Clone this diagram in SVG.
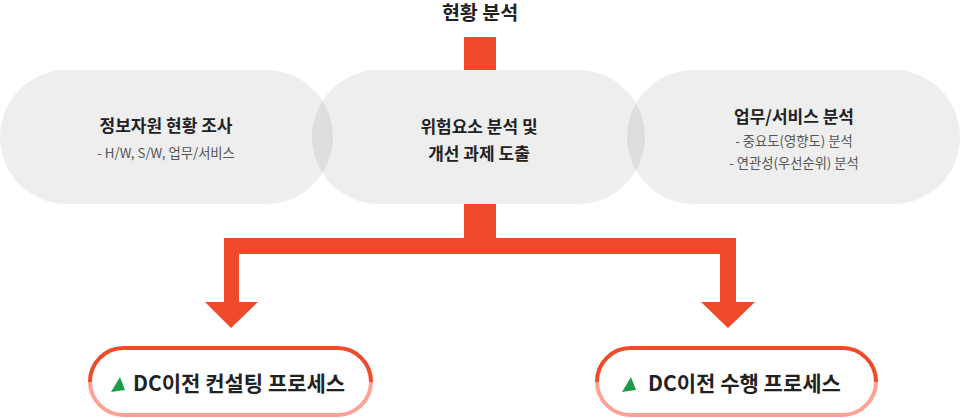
<svg xmlns="http://www.w3.org/2000/svg" width="960" height="418" viewBox="0 0 960 418">
<defs>
<style>
text{font-family:"Noto Sans CJK KR","Noto Sans",sans-serif;text-anchor:middle}
.pill{fill:#000;fill-opacity:0.066}
.t{font-size:17px;font-weight:700;fill:#222}
.s{font-size:13.3px;fill:#555}
.h{font-size:19.5px;font-weight:700;fill:#222}
.b{font-size:21px;font-weight:700;fill:#222;text-anchor:start}
.flow{fill:#ef4a2b}
.tri{fill:#1f9a48}
</style>
<linearGradient id="bd" x1="0" y1="0" x2="0" y2="1">
<stop offset="0.5" stop-color="#ef4a2b"/>
<stop offset="0.5" stop-color="#fba294"/>
</linearGradient>
</defs>
<g id="title"><text class="h" x="480" y="20">현황 분석</text></g>
<g id="connectors">
<rect class="flow" x="464" y="37" width="32" height="33"/>
<path class="flow" d="M464 204H496V238H736V302H755L728 328L701 302H720V254H239V302H258L231 328L205 302H224V238H464Z"/>
</g>
<g id="node-survey">
<rect class="pill" x="0" y="70" width="333" height="134" rx="67"/>
<text class="t" x="166" y="132">정보자원 현황 조사</text>
<text class="s" x="166" y="158">- H/W, S/W, 업무/서비스</text>
</g>
<g id="node-risk">
<rect class="pill" x="312" y="70" width="333" height="134" rx="67"/>
<text class="t" x="479" y="133">위험요소 분석 및</text>
<text class="t" x="479" y="160">개선 과제 도출</text>
</g>
<g id="node-biz">
<rect class="pill" x="627" y="70" width="333" height="134" rx="67"/>
<text class="t" x="794" y="123">업무/서비스 분석</text>
<text class="s" x="794" y="146">- 중요도(영향도) 분석</text>
<text class="s" x="794" y="168">- 연관성(우선순위) 분석</text>
</g>
<g id="node-consulting">
<rect x="90" y="348" width="281" height="67" rx="33.5" fill="#fff" stroke="url(#bd)" stroke-width="4"/>
<polygon class="tri" points="111,392 125,390 120,377"/>
<text class="b" x="133" y="391">DC이전 컨설팅 프로세스</text>
</g>
<g id="node-execution">
<rect x="597" y="348" width="279" height="67" rx="33.5" fill="#fff" stroke="url(#bd)" stroke-width="4"/>
<polygon class="tri" points="622,392 636,390 631,377"/>
<text class="b" x="648" y="391">DC이전 수행 프로세스</text>
</g>
</svg>
